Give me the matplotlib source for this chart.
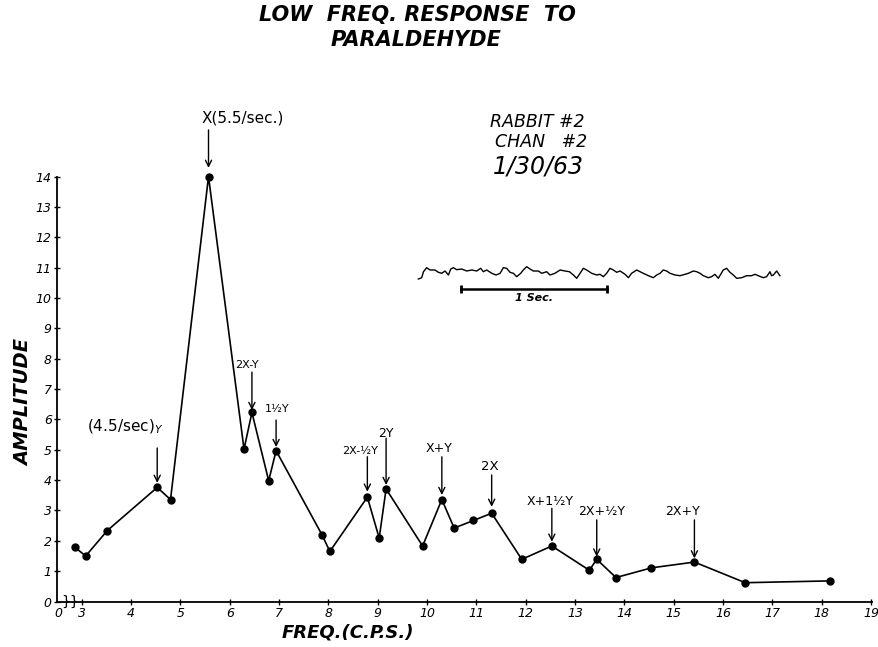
import matplotlib.pyplot as plt

# amplitude spectrum
freq = [2.86, 3.08, 3.52, 4.53, 4.80, 5.57, 6.29, 6.45, 6.79, 6.94, 7.87, 8.03,
        8.79, 9.03, 9.17, 9.91, 10.30, 10.55, 10.94, 11.31, 11.92, 12.53, 13.29,
        13.44, 13.83, 14.55, 15.42, 16.45, 18.17]
amp = [1.79, 1.50, 2.34, 3.76, 3.36, 14.0, 5.02, 6.23, 3.98, 4.97, 2.20, 1.65,
       3.44, 2.09, 3.71, 1.83, 3.36, 2.42, 2.67, 2.91, 1.39, 1.83, 1.03,
       1.39, 0.79, 1.11, 1.30, 0.62, 0.68]

xticks = list(range(3, 20))
yticks = list(range(0, 15))

# peak annotations: label, label pos, arrow x, arrow top, arrow tip
ann_text = ['X(5.5/sec.)', '2X-Y', '1½Y', '(4.5/sec)$_{Y}$', '2X-½Y', '2Y',
            'X+Y', '2X', 'X+1½Y', '2X+½Y', '2X+Y']
ann_tx = [5.43, 6.34, 6.96, 3.88, 8.64, 9.17, 10.24, 11.28, 12.49, 13.53, 15.18]
ann_ty = [15.94, 7.79, 6.34, 5.76, 4.97, 5.54, 5.05, 4.44, 3.29, 2.96, 2.96]
ann_ax = [5.57, 6.45, 6.94, 4.53, 8.79, 9.17, 10.30, 11.31, 12.53, 13.44, 15.42]
ann_top = [15.54, 7.56, 5.98, 5.06, 4.77, 5.38, 4.77, 4.17, 3.07, 2.69, 2.69]
ann_tip = [14.29, 6.31, 5.09, 3.91, 3.62, 3.84, 3.51, 3.12, 1.97, 1.48, 1.42]
ann_size = [11, 8, 8, 11, 8, 9, 9, 9.5, 9, 9, 9]
ann_ha = ['left', 'center', 'center', 'center', 'center', 'center', 'center',
          'center', 'center', 'center', 'center']

# EEG sample trace (seconds, arbitrary units)
trace_t = [0.002, 0.025, 0.037, 0.059, 0.082, 0.116, 0.139, 0.162, 0.185, 0.208,
           0.224, 0.242, 0.265, 0.299, 0.333, 0.368, 0.402, 0.429, 0.447, 0.470,
           0.505, 0.534, 0.562, 0.584, 0.607, 0.630, 0.653, 0.676, 0.703, 0.721,
           0.744, 0.767, 0.790, 0.824, 0.847, 0.881, 0.904, 0.938, 0.973, 1.007,
           1.037, 1.064, 1.087, 1.110, 1.132, 1.155, 1.190, 1.224, 1.247, 1.269,
           1.292, 1.315, 1.338, 1.361, 1.384, 1.418, 1.441, 1.463, 1.498, 1.521,
           1.543, 1.578, 1.612, 1.635, 1.658, 1.680, 1.703, 1.726, 1.760, 1.795,
           1.829, 1.852, 1.886, 1.909, 1.932, 1.954, 1.989, 2.011, 2.034, 2.057,
           2.091, 2.114, 2.137, 2.160, 2.183, 2.217, 2.251, 2.285, 2.308, 2.331,
           2.365, 2.388, 2.411, 2.422, 2.434, 2.457, 2.479]
trace_v = [-6.0, -4.7, 1.3, 5.3, 3.0, 3.0, 0.7, -0.3, 2.0, -2.0,
           4.0, 5.3, 3.3, 4.0, 2.0, 3.0, 2.0, 4.7, 1.3, 3.0,
           -0.3, -2.0, -0.3, 5.3, 4.7, 0.7, -0.3, -3.7, -0.3, 3.0,
           6.3, 4.0, 2.0, 2.0, -0.3, 1.3, -2.0, -0.3, 3.0, 2.0,
           1.3, -2.0, -5.3, -0.3, 4.7, 3.0, -0.3, -2.0, -1.3, -3.7,
           -0.3, 4.7, 3.0, 0.7, 2.0, -1.3, -4.7, -0.3, 3.0, 1.3,
           -0.3, -2.7, -4.7, -2.0, -0.3, 3.0, 2.0, -0.3, -2.0, -2.7,
           -1.3, -0.3, 2.0, 1.3, -0.3, -2.7, -4.7, -3.7, -1.3, -5.3,
           3.0, 4.7, 0.7, -2.0, -5.3, -4.7, -2.7, -2.7, -1.3, -2.7,
           -4.7, -3.7, 1.3, -2.7, -2.0, 2.0, -2.7]
scale_bar = [0.295, 1.295]

fig = plt.figure(figsize=(8.79, 6.47), dpi=100)
ax = fig.add_axes([0.0652, 0.0703, 0.9274, 0.6566])

ax.plot(freq, amp, color='black', lw=1.2, marker='o', ms=5, clip_on=False, zorder=3)

ax.set_xlim(2.505, 19.03)
ax.set_ylim(0, 14)
ax.spines['top'].set_visible(False)
ax.spines['right'].set_visible(False)
for s in ('left', 'bottom'):
    ax.spines[s].set_linewidth(1.3)

ax.set_xticks([2.53] + xticks)
ax.set_xticklabels(['0'] + [str(v) for v in xticks], fontstyle='italic', fontsize=9)
ax.set_yticks(yticks)
ax.set_yticklabels([str(v) for v in yticks], fontstyle='italic', fontsize=9)
ax.tick_params(axis='both', direction='inout', length=4, width=1, pad=2)
ax.get_xticklines()[0].set_visible(False)
ax.get_xticklines()[1].set_visible(False)

# axis break mark between 0 and 3
ax.text(2.76, 0, '}}', fontsize=10, ha='center', va='center', clip_on=False)

for i in range(len(ann_text)):
    ax.text(ann_tx[i], ann_ty[i], ann_text[i], fontsize=ann_size[i], ha=ann_ha[i],
            va='center', clip_on=False)
    ax.annotate('', xy=(ann_ax[i], ann_tip[i]), xytext=(ann_ax[i], ann_top[i]),
                arrowprops=dict(arrowstyle='->', color='black', lw=1.0,
                                shrinkA=0, shrinkB=0, mutation_scale=11),
                annotation_clip=False)

fig.text(0.4745, 1 - 15 / 647, 'LOW  FREQ. RESPONSE  TO', fontsize=15,
         fontweight='bold', fontstyle='italic', ha='center', va='center')
fig.text(0.4735, 1 - 40 / 647, 'PARALDEHYDE', fontsize=15,
         fontweight='bold', fontstyle='italic', ha='center', va='center')

fig.text(24 / 879, 1 - 402 / 647, 'AMPLITUDE', fontsize=14, fontweight='bold',
         fontstyle='italic', rotation=90, ha='center', va='center')
fig.text(348 / 879, 1 - 633 / 647, 'FREQ.(C.P.S.)', fontsize=13, fontweight='bold',
         fontstyle='italic', ha='center', va='center')

fig.text(490 / 879, 1 - 122 / 647, 'RABBIT #2', fontsize=12.5, fontstyle='italic',
         ha='left', va='center')
fig.text(495 / 879, 1 - 142 / 647, 'CHAN   #2', fontsize=12.5, fontstyle='italic',
         ha='left', va='center')
fig.text(493 / 879, 1 - 167 / 647, '1/30/63', fontsize=17, fontstyle='italic',
         ha='left', va='center')

# EEG sample inset
ax2 = fig.add_axes([415 / 879, 1 - 305 / 647, 370 / 879, 50 / 647])
ax2.plot(trace_t, trace_v, color='black', lw=1.0)
ax2.plot(scale_bar, [-16.3, -16.3], color='black', lw=1.8, marker='|', ms=6, mew=2)
ax2.text(sum(scale_bar) / 2, -25, '1 Sec.', fontsize=8, fontweight='bold',
         fontstyle='italic', ha='center', va='center')
ax2.set_xlim(-0.021, 2.514)
ax2.set_ylim(-32, 18)
ax2.axis('off')

fig.savefig('out.png', dpi=100)
